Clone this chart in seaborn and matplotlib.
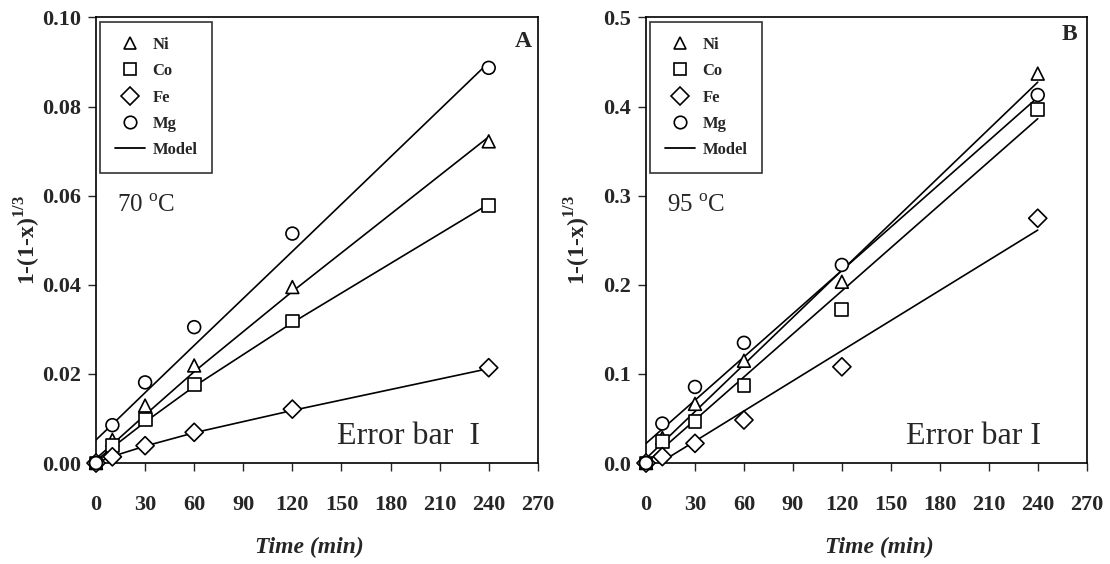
import numpy as np
import pandas as pd
import matplotlib.pyplot as plt
from matplotlib.lines import Line2D
from matplotlib.ticker import FormatStrFormatter
import seaborn as sns

# tempo (min)
time = [0, 10, 30, 60, 120, 240]
metals = ['Ni', 'Co', 'Fe', 'Mg']

# 70 oC - pontos experimentais
ni_70 = [0, 0.0052, 0.0129, 0.0219, 0.0395, 0.0722]
co_70 = [0, 0.0040, 0.0098, 0.0176, 0.0319, 0.0578]
fe_70 = [0, 0.0014, 0.0039, 0.0069, 0.0121, 0.0214]
mg_70 = [0, 0.0085, 0.0181, 0.0305, 0.0515, 0.0887]
# 70 oC - modelo
ni_70_model = [0.0010, 0.0042, 0.0108, 0.0205, 0.0385, 0.0732]
co_70_model = [0.0005, 0.0035, 0.0092, 0.0172, 0.0315, 0.0581]
fe_70_model = [0.0000, 0.0015, 0.0038, 0.0068, 0.0118, 0.0212]
mg_70_model = [0.0052, 0.0087, 0.0158, 0.0264, 0.0475, 0.0899]

# 95 oC - pontos experimentais
ni_95 = [0, 0.0282, 0.0664, 0.1148, 0.2034, 0.4370]
co_95 = [0, 0.0240, 0.0463, 0.0866, 0.1724, 0.3968]
fe_95 = [0, 0.0072, 0.0221, 0.0483, 0.1080, 0.2747]
mg_95 = [0, 0.0443, 0.0854, 0.1349, 0.2223, 0.4130]
# 95 oC - modelo
ni_95_model = [0.0050, 0.0226, 0.0578, 0.1106, 0.2162, 0.4274]
co_95_model = [0.0000, 0.0161, 0.0483, 0.0966, 0.1932, 0.3864]
fe_95_model = [-0.0093, 0.0020, 0.0245, 0.0584, 0.1261, 0.2614]
mg_95_model = [0.0220, 0.0382, 0.0705, 0.1191, 0.2162, 0.4103]

marcadores = {'Ni': '^', 'Co': 's', 'Fe': 'D', 'Mg': 'o'}

sns.set_style('ticks')
plt.rcParams['font.family'] = ['Liberation Serif', 'DejaVu Serif']
plt.rcParams['mathtext.fontset'] = 'custom'
plt.rcParams['mathtext.rm'] = 'Liberation Serif'
plt.rcParams['mathtext.bf'] = 'Liberation Serif:bold'
plt.rcParams['axes.linewidth'] = 1.2


def tabela(series):
    return pd.DataFrame({
        'time': time * len(metals),
        'value': sum(series, []),
        'metal': np.repeat(metals, len(time)),
    })


def painel(ax, obs, model, ymax, ystep, fmt, letra, temp, err_x, err_txt, xlab_x, letra_xy):
    sns.lineplot(data=tabela(model), x='time', y='value', units='metal', estimator=None,
                 color='black', lw=1.2, ax=ax, legend=False, zorder=2)
    sns.scatterplot(data=tabela(obs), x='time', y='value', style='metal', markers=marcadores,
                    color='white', edgecolor='black', linewidth=1.2, s=85, ax=ax,
                    legend=False, zorder=3, clip_on=False)
    ax.set_xlim(0, 270)
    ax.set_ylim(0, ymax)
    ax.set_xticks(range(0, 271, 30))
    ax.set_yticks(np.arange(0, ymax + ystep / 2, ystep))
    ax.yaxis.set_major_formatter(FormatStrFormatter(fmt))
    ax.tick_params(axis='x', direction='out', length=6, width=1, pad=17, labelsize=16)
    ax.tick_params(axis='y', direction='out', length=6, width=1, pad=5, labelsize=16)
    for lab in ax.get_xticklabels() + ax.get_yticklabels():
        lab.set_fontweight('bold')
    for sp in ax.spines.values():
        sp.set_visible(True)
        sp.set_color('black')

    ax.set_xlabel('Time (min)', fontsize=17, fontweight='bold', fontstyle='italic')
    ax.xaxis.set_label_coords(xlab_x, -0.165)
    ax.set_ylabel(r'1-(1-x)$^{\mathbf{1/3}}$', fontsize=17, fontweight='bold')
    ax.yaxis.set_label_coords(-0.12, 0.5)

    ax.text(letra_xy[0], letra_xy[1], letra, transform=ax.transAxes, fontsize=17,
            fontweight='bold', ha='center', va='center')
    ax.text(0.113, 0.578, temp, transform=ax.transAxes, fontsize=18, ha='center', va='center')
    ax.text(err_x, 0.06, err_txt, transform=ax.transAxes, fontsize=23, ha='left', va='center')

    handles = [Line2D([], [], marker=marcadores[m], color='black', markerfacecolor='white',
                      linestyle='none', markersize=9, markeredgewidth=1.2, label=m)
               for m in metals]
    handles.append(Line2D([], [], color='black', lw=1.3, label='Model'))
    leg = ax.legend(handles=handles, loc='upper left', bbox_to_anchor=(0.009, 0.99),
                    borderaxespad=0, fancybox=False, frameon=True, borderpad=0.9,
                    labelspacing=0.62, handlelength=1.8, handletextpad=0.45,
                    prop={'family': 'Liberation Serif', 'weight': 'bold', 'size': 12})
    leg.get_frame().set_edgecolor('black')
    leg.get_frame().set_linewidth(1.2)


fig = plt.figure(figsize=(11.1, 5.64), dpi=100)
ax1 = fig.add_axes([0.0865, 0.179, 0.398, 0.790])
ax2 = fig.add_axes([0.582, 0.179, 0.397, 0.790])

painel(ax1, [ni_70, co_70, fe_70, mg_70],
       [ni_70_model, co_70_model, fe_70_model, mg_70_model],
       0.10, 0.02, '%.2f', 'A', r'70 $^{\mathrm{o}}$C', 0.545, 'Error bar  I', 0.484, (0.966, 0.946))
painel(ax2, [ni_95, co_95, fe_95, mg_95],
       [ni_95_model, co_95_model, fe_95_model, mg_95_model],
       0.5, 0.1, '%.1f', 'B', r'95 $^{\mathrm{o}}$C', 0.59, 'Error bar I', 0.53, (0.961, 0.962))

fig.savefig('out.png', dpi=100)
